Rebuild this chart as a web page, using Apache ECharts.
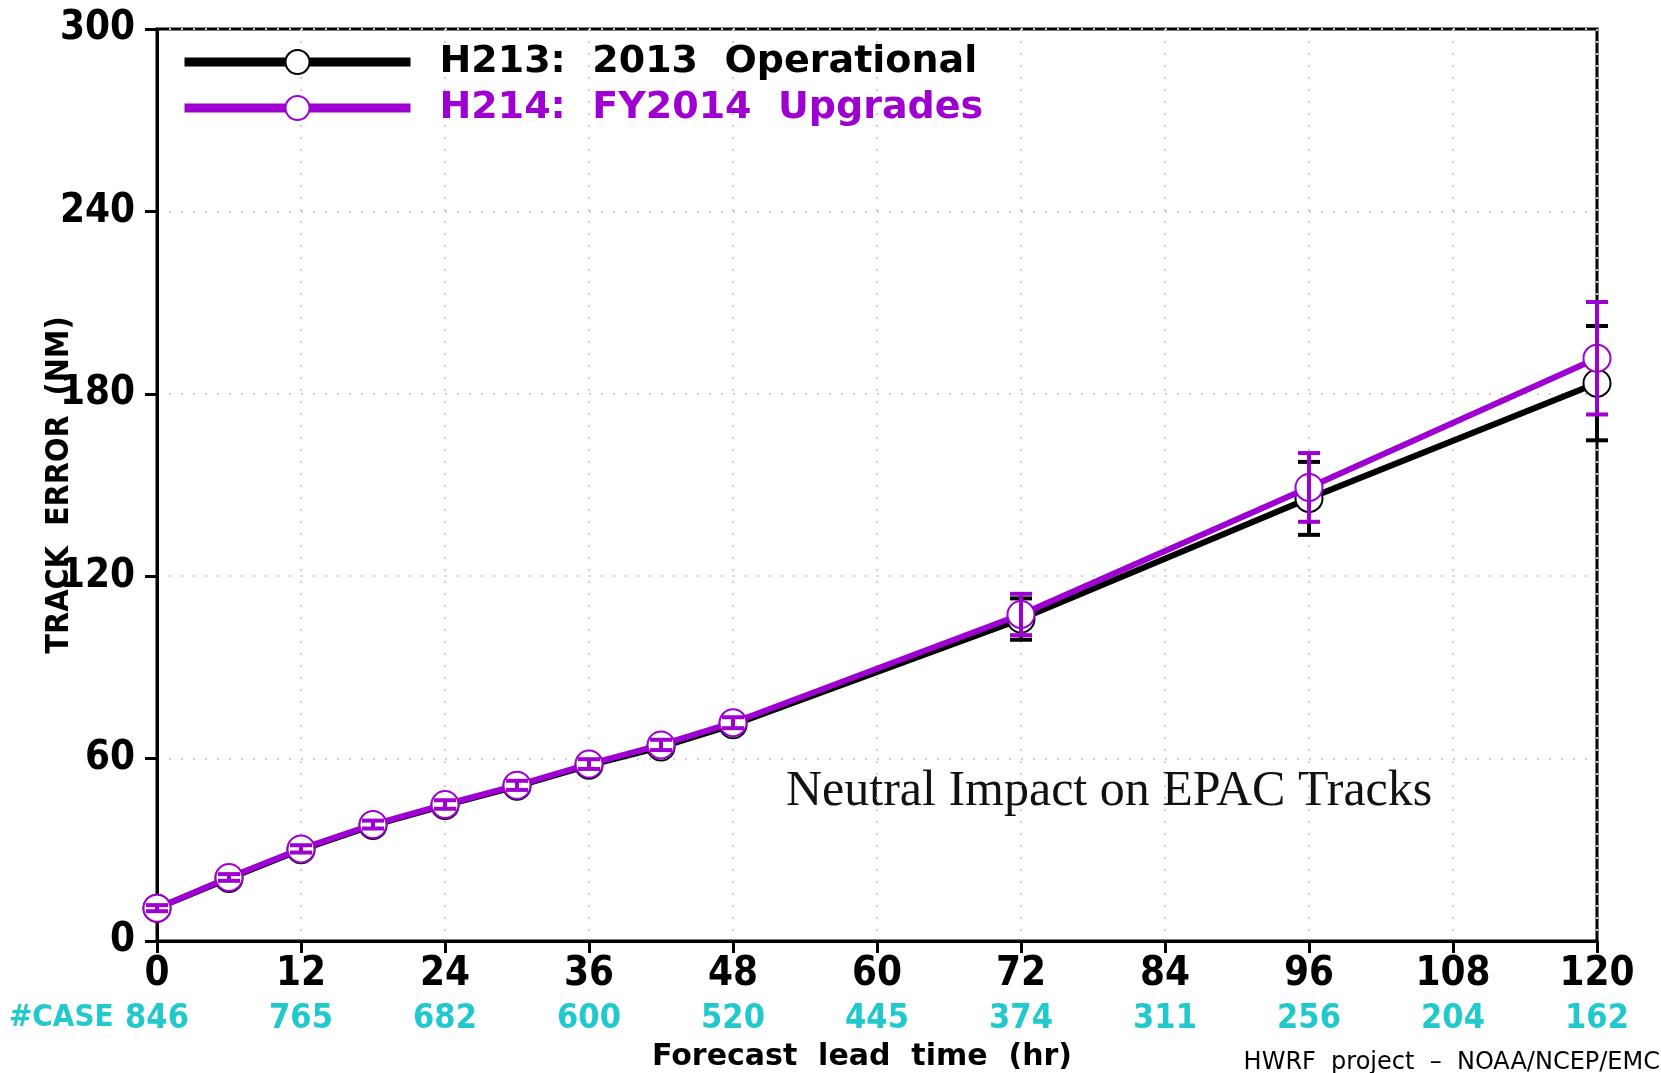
<!DOCTYPE html>
<html>
<head>
<meta charset="utf-8">
<title>EPAC track error</title>
<script src="https://cdn.jsdelivr.net/npm/echarts@6/dist/echarts.min.js"></script>
<style>
  html, body { margin: 0; padding: 0; background: #fff; }
  #chart { width: 1661px; height: 1073px; }
</style>
</head>
<body>
<div id="chart"></div>
<script>
// forecast lead times (hr) and mean track errors (NM)
const leadHours = [0, 6, 12, 18, 24, 30, 36, 42, 48, 72, 96, 120];
const h213Error = [10.8, 20.6, 30.0, 38.0, 44.6, 50.9, 57.8, 63.8, 71.1, 105.9, 145.6, 183.5];
const h214Error = [10.8, 20.9, 30.3, 38.3, 44.9, 51.2, 58.2, 64.5, 71.8, 107.4, 149.2, 191.7];
// half-width of the error bars
const h213Spread = [1.0, 1.1, 1.2, 1.3, 1.4, 1.5, 1.6, 1.7, 1.8, 6.8, 12.0, 18.8];
const h214Spread = [1.0, 1.1, 1.2, 1.3, 1.4, 1.5, 1.6, 1.7, 1.8, 6.8, 11.3, 18.5];
// tick labels along the bottom
const tickHours = [0, 12, 24, 36, 48, 60, 72, 84, 96, 108, 120];
const caseCounts = [846, 765, 682, 600, 520, 445, 374, 311, 256, 204, 162];

const names = ['H213:  2013  Operational', 'H214:  FY2014  Upgrades'];
const PURPLE = '#9e00d2';
const CYAN = '#22c9cc';
const CONDENSED = "'DejaVu Sans Condensed', 'Liberation Sans Narrow', sans-serif";
const WIDE = "'DejaVu Sans', sans-serif";

const chart = echarts.init(document.getElementById('chart'));

function pairs(ys) {
  return leadHours.map((h, i) => [h, ys[i]]);
}
function bars(ys, spread) {
  return leadHours.map((h, i) => [h, ys[i] - spread[i], ys[i] + spread[i]]);
}

function errorBar(color) {
  return function (params, api) {
    const lo = api.coord([api.value(0), api.value(1)]);
    const hi = api.coord([api.value(0), api.value(2)]);
    const w = 11;
    const style = { stroke: color, lineWidth: 4 };
    return {
      type: 'group',
      children: [
        { type: 'line', shape: { x1: lo[0], y1: lo[1], x2: hi[0], y2: hi[1] }, style },
        { type: 'line', shape: { x1: lo[0] - w, y1: lo[1], x2: lo[0] + w, y2: lo[1] }, style },
        { type: 'line', shape: { x1: hi[0] - w, y1: hi[1], x2: hi[0] + w, y2: hi[1] }, style }
      ]
    };
  };
}

function lineSeries(name, ys, color, z) {
  return {
    name: name,
    type: 'line',
    data: pairs(ys),
    z: z,
    symbol: 'emptyCircle',
    symbolSize: 27,
    lineStyle: { color: color, width: 6 },
    itemStyle: { color: color, borderColor: color, borderWidth: 4 },
    emphasis: { disabled: true },
    animation: false
  };
}

const axisLine = { show: true, lineStyle: { color: '#000', width: 3 } };
const axisTick = { show: true, length: 12, lineStyle: { color: '#000', width: 3 } };
const grid = { show: true, lineStyle: { color: '#cccccc', type: [2, 10], width: 2 } };

const option = {
  backgroundColor: '#fff',
  grid: {
    left: 157, right: 64, top: 29, bottom: 132,
    show: true, borderColor: '#000', borderWidth: 3
  },
  legend: {
    orient: 'vertical',
    left: 180,
    top: 40,
    padding: 0,
    itemWidth: 226,
    itemHeight: 30,
    itemGap: 2,
    selectedMode: false,
    lineStyle: { width: 9 },
    textStyle: { fontFamily: WIDE, fontWeight: 'bold', fontSize: 38, lineHeight: 44, padding: [0, 0, 0, 24] },
    data: [
      { name: names[0], textStyle: { color: '#000' } },
      { name: names[1], textStyle: { color: PURPLE } }
    ]
  },
  xAxis: [
    {
      type: 'value', min: 0, max: 120, interval: 12,
      axisLine: axisLine, axisTick: axisTick, splitLine: grid,
      axisLabel: { color: '#000', fontFamily: CONDENSED, fontWeight: 'bold', fontSize: 40, margin: 14 }
    },
    {
      type: 'value', min: 0, max: 120, interval: 12, position: 'bottom', offset: 50,
      axisLine: { show: false }, axisTick: { show: false }, splitLine: { show: false },
      axisLabel: {
        color: CYAN, fontFamily: CONDENSED, fontWeight: 'bold', fontSize: 34, margin: 11,
        formatter: v => String(caseCounts[tickHours.indexOf(v)])
      }
    }
  ],
  yAxis: {
    type: 'value', min: 0, max: 300, interval: 60,
    axisLine: axisLine, axisTick: axisTick, splitLine: grid,
    axisLabel: { color: '#000', fontFamily: CONDENSED, fontWeight: 'bold', fontSize: 40, margin: 22 },
    name: 'TRACK  ERROR  (NM)',
    nameLocation: 'middle',
    nameGap: 81,
    nameMoveOverlap: false,
    nameTextStyle: { color: '#000', fontFamily: CONDENSED, fontWeight: 'bold', fontSize: 32 }
  },
  series: [
    lineSeries(names[0], h213Error, '#000', 2),
    {
      name: 'H213 bars', type: 'custom', z: 3, animation: false,
      data: bars(h213Error, h213Spread),
      encode: { x: 0, y: [1, 2] },
      renderItem: errorBar('#000')
    },
    lineSeries(names[1], h214Error, PURPLE, 4),
    {
      name: 'H214 bars', type: 'custom', z: 5, animation: false,
      data: bars(h214Error, h214Spread),
      encode: { x: 0, y: [1, 2] },
      renderItem: errorBar(PURPLE)
    }
  ],
  graphic: [
    {
      type: 'text', left: 9, top: 1002,
      style: { text: '#CASE', fill: CYAN, font: "bold 31px " + CONDENSED }
    },
    {
      type: 'text', x: 862, y: 1057,
      style: { text: 'Forecast  lead  time  (hr)', fill: '#000', font: "bold 30px " + WIDE,
               textAlign: 'center', textVerticalAlign: 'middle' }
    },
    {
      type: 'text', x: 786, y: 792,
      style: { text: 'Neutral Impact on EPAC Tracks', fill: '#111', font: "50px 'Liberation Serif', serif",
               textVerticalAlign: 'middle' }
    },
    {
      type: 'text', x: 1660, y: 1063,
      style: { text: 'HWRF  project  \u2013  NOAA/NCEP/EMC', fill: '#000', font: "24px " + WIDE,
               textAlign: 'right', textVerticalAlign: 'middle' }
    }
  ]
};

chart.setOption(option);
window.addEventListener('resize', () => chart.resize());
</script>
</body>
</html>
